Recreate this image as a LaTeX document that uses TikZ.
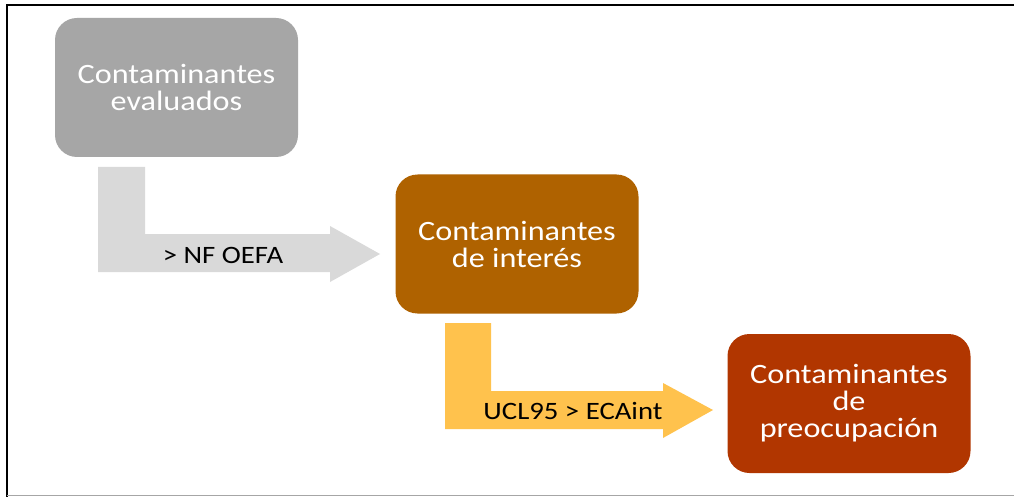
\documentclass[tikz,border=0pt]{standalone}
\usepackage{fontspec}
\setmainfont{Carlito}[FakeStretch=1.15]
\definecolor{boxgray}{HTML}{A6A6A6}
\definecolor{arrgray}{HTML}{D9D9D9}
\definecolor{boxbrown}{HTML}{AF6200}
\definecolor{arrgold}{HTML}{FFC24D}
\definecolor{boxred}{HTML}{B13600}
\tikzset{
  stagebox/.style={rounded corners=22pt, minimum width=243pt, minimum height=139pt, inner sep=0pt,
    text=white, align=center, font=\fontsize{28}{27}\selectfont},
  blockarrow/.style={draw=none},
  arrlabel/.style={anchor=base, inner sep=0pt, text=black, font=\fontsize{25}{27}\selectfont}
}
\begin{document}
\begin{tikzpicture}[x=1pt,y=-1pt]
\useasboundingbox (0,0) rectangle (1014,497);
\fill[white] (0,0) rectangle (1014,497);
% frame
\draw[black, line width=2.5pt] (7,497) -- (7,5) -- (1014,5);
\draw[gray!70, line width=1.5pt] (7,495.5) -- (1014,495.5);
% arrows
\fill[arrgray] (98,167) -- (145,167) -- (145,234) -- (330,234) -- (330,226) -- (380,254)
  -- (330,282) -- (330,272) -- (98,272) -- cycle;
\node[arrlabel] (l1) at (223,263) {> NF OEFA};
\fill[arrgold] (445,323) -- (491,323) -- (491,391) -- (663,391) -- (663,383) -- (713,410)
  -- (663,438) -- (663,429) -- (445,429) -- cycle;
\node[arrlabel] (l2) at (573,419) {UCL95 > ECAint};
% boxes
\node[stagebox, fill=boxgray] (b1) at (176.5,87.5) {Contaminantes\\evaluados};
\node[stagebox, fill=boxbrown] (b2) at (517,244) {Contaminantes\\de interés};
\node[stagebox, fill=boxred] (b3) at (849,403.5) {Contaminantes\\de\\preocupación};
\end{tikzpicture}
\end{document}
